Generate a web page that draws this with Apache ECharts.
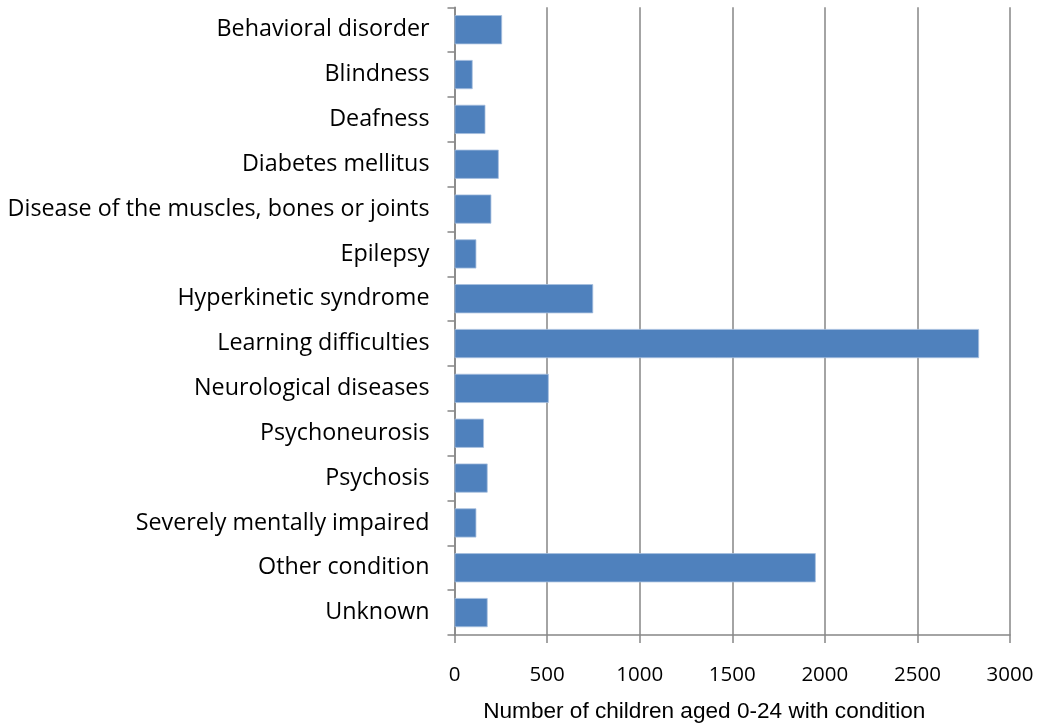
<!DOCTYPE html>
<html>
<head>
<meta charset="utf-8">
<script src="https://cdn.jsdelivr.net/npm/echarts@6/dist/echarts.min.js"></script>
<style>html,body{margin:0;padding:0;background:#fff}#c{width:1043px;height:727px}</style>
</head>
<body>
<div id="c"></div>
<script>
const categories = [
  "Behavioral disorder",
  "Blindness",
  "Deafness",
  "Diabetes mellitus",
  "Disease of the muscles, bones or joints",
  "Epilepsy",
  "Hyperkinetic syndrome",
  "Learning difficulties",
  "Neurological diseases",
  "Psychoneurosis",
  "Psychosis",
  "Severely mentally impaired",
  "Other condition",
  "Unknown"
];
const values = [257, 98, 167, 239, 199, 118, 749, 2833, 509, 159, 179, 118, 1951, 179];
const xTicks = [0, 500, 1000, 1500, 2000, 2500, 3000];
const xTitle = "Number of children aged 0-24 with condition";

const chart = echarts.init(document.getElementById('c'), null, {renderer: 'canvas'});
chart.setOption({
  animation: false,
  backgroundColor: '#fff',
  grid: {left: 454.5, right: 33, top: 7.3, bottom: 92, containLabel: false, outerBoundsMode: 'none'},
  xAxis: {
    type: 'value',
    min: xTicks[0],
    max: xTicks[xTicks.length - 1],
    interval: xTicks[1] - xTicks[0],
    name: xTitle,
    nameLocation: 'middle',
    nameGap: 65,
    nameTextStyle: {fontFamily: 'Liberation Sans', fontSize: 22.6, color: '#000', padding: [0, 56, 0, 0]},
    axisLine: {show: true, lineStyle: {color: '#868686', width: 1.5}},
    axisTick: {show: true, length: 8, lineStyle: {color: '#868686', width: 1.5}},
    axisLabel: {fontFamily: 'Open Sans', fontSize: 20.5, color: '#000', margin: 30, formatter: v => String(v)},
    splitLine: {show: true, lineStyle: {color: '#868686', width: 1.5}}
  },
  yAxis: {
    type: 'category',
    data: categories,
    inverse: true,
    axisLine: {show: true, lineStyle: {color: '#868686', width: 1.5}},
    axisTick: {show: true, length: 7, lineStyle: {color: '#868686', width: 1.5}},
    axisLabel: {fontFamily: 'Open Sans', fontSize: 23.3, color: '#000', margin: 25},
    splitLine: {show: false}
  },
  series: [{
    type: 'bar',
    data: values,
    barCategoryGap: '35%',
    itemStyle: {color: '#4F81BD', borderColor: '#A7BFDE', borderWidth: 0.8}
  }]
});
</script>
</body>
</html>
